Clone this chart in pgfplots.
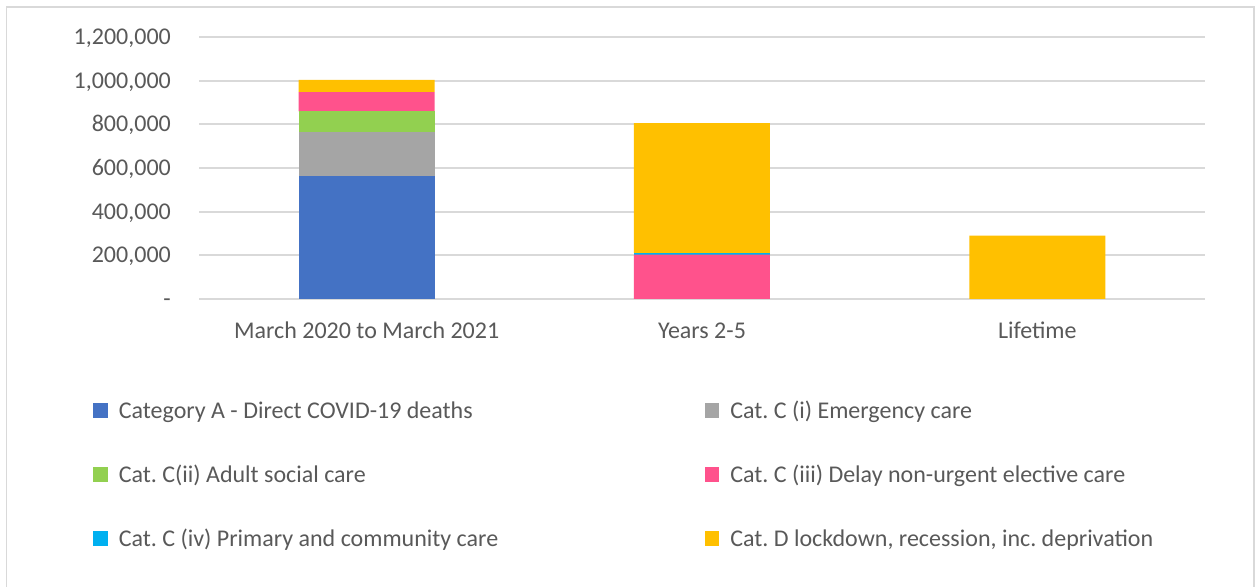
\documentclass[border=0pt]{standalone}
\usepackage{fontspec}
\setmainfont{Carlito}
\usepackage{pgfplots}
\pgfplotsset{compat=1.18}
\frenchspacing
\definecolor{txt}{HTML}{595959}
\definecolor{gridc}{HTML}{D9D9D9}
\definecolor{cA}{HTML}{4472C4}
\definecolor{cCi}{HTML}{A5A5A5}
\definecolor{cCii}{HTML}{92D050}
\definecolor{cCiii}{HTML}{FF528C}
\definecolor{cCiv}{HTML}{00B0F0}
\definecolor{cD}{HTML}{FFC000}
\pgfplotsset{leg/.style={legend image code/.code={%
  \path[draw=none, fill=none] (0bp,-32bp) rectangle (14.5bp,32bp);
  \fill[##1] (0bp,-7.25bp) rectangle (14.5bp,7.25bp);}}}
\begin{document}
\frenchspacing
\begin{tikzpicture}
\useasboundingbox (0,0) rectangle (1258bp,587bp);
\fill[white] (0,0) rectangle (1258bp,587bp);
\draw[gridc, line width=1.5bp] (6.5bp,-10bp) rectangle (1254bp,580bp);
\begin{axis}[
  at={(199bp,288bp)}, anchor=south west,
  scale only axis, width=1006bp, height=262bp,
  ybar stacked, bar width=136bp,
  xmin=-0.5, xmax=2.5, ymin=0, ymax=1200000,
  xtick={0,1,2},
  xticklabels={March 2020 to March 2021, Years 2-5, Lifetime},
  ytick={0,200000,400000,600000,800000,1000000,1200000},
  yticklabels={{-\hspace{11bp}},{200,000},{400,000},{600,000},{800,000},{1,000,000},{1,200,000}},
  scaled y ticks=false,
  axis line style={draw=none},
  major tick length=0pt,
  ymajorgrids, grid style={gridc, line width=1.8bp},
  tick label style={font=\fontsize{24bp}{28bp}\selectfont, text=txt, inner sep=0pt},
  xticklabel style={anchor=base, yshift=-39bp},
  yticklabel style={anchor=base east, xshift=-28bp, yshift=-7.6bp},
  legend columns=2,
  legend cell align=left,
  legend style={draw=none, fill=none, at={(-0.10507,-0.30344)}, anchor=north west,
    inner sep=0pt, outer sep=0pt, column sep=0pt, row sep=0pt,
    font=\fontsize{24bp}{28bp}\selectfont\frenchspacing, text=txt,
    nodes={inner sep=0pt, text height=15.5bp, text depth=0pt},
    /tikz/every odd column/.append style={column sep=11bp},
    /tikz/every even column/.append style={column sep=0pt}},
]
\addplot[fill=cA, draw=none, leg] coordinates {(0,564000) (1,0) (2,0)};
\addlegendentry{\makebox[586bp][l]{Category A - Direct COVID-19 deaths}}
\addplot[fill=cCi, draw=none, leg] coordinates {(0,203000) (1,0) (2,0)};
\addlegendentry{Cat. C (i) Emergency care}
\addplot[fill=cCii, draw=none, leg] coordinates {(0,92000) (1,0) (2,0)};
\addlegendentry{\makebox[586bp][l]{Cat. C(ii) Adult social care}}
\addplot[fill=cCiii, draw=none, leg] coordinates {(0,89000) (1,203000) (2,0)};
\addlegendentry{Cat. C (iii) Delay non-urgent elective care}
\addplot[fill=cCiv, draw=none, leg] coordinates {(0,0) (1,7000) (2,0)};
\addlegendentry{\makebox[586bp][l]{Cat. C (iv) Primary and community care}}
\addplot[fill=cD, draw=none, leg] coordinates {(0,56000) (1,596000) (2,290000)};
\addlegendentry{Cat. D lockdown, recession, inc. deprivation}
\end{axis}
\end{tikzpicture}
\end{document}
